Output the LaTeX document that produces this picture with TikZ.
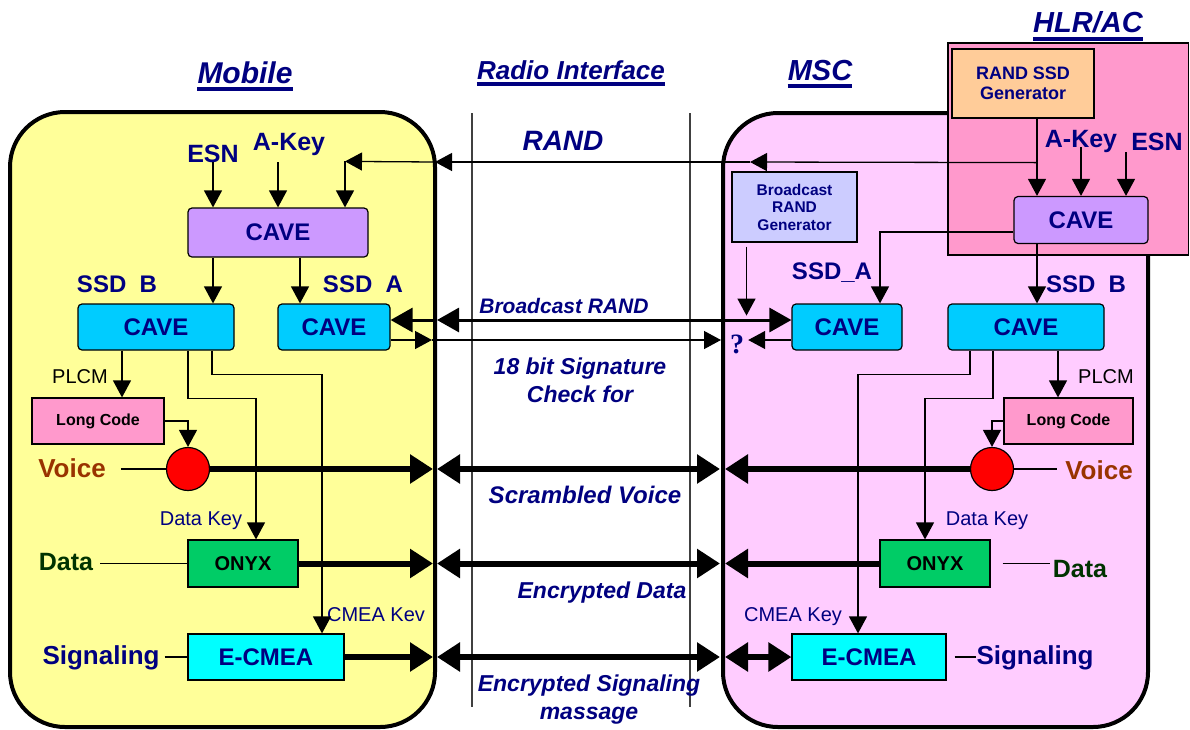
\documentclass[tikz,border=0pt]{standalone}
\usepackage{fontspec}
\setmainfont{Liberation Sans}
\newfontfamily\serifq{Liberation Serif}
\usetikzlibrary{arrows.meta,positioning,calc}
\definecolor{navyT}{HTML}{000080}
\definecolor{mobY}{HTML}{FFFF99}
\definecolor{mscP}{HTML}{FFCCFF}
\definecolor{hlrP}{HTML}{FF99CC}
\definecolor{genO}{HTML}{FFCC99}
\definecolor{caveV}{HTML}{CC99FF}
\definecolor{caveC}{HTML}{00CCFF}
\definecolor{bcastB}{HTML}{CCCCFF}
\definecolor{onyxG}{HTML}{00CC66}
\definecolor{ecmC}{HTML}{00FFFF}
\definecolor{voiceR}{HTML}{993300}
\definecolor{dataG}{HTML}{003300}
\newcommand\fsz[1]{\fontsize{#1}{#1}\selectfont}
\newcommand\fsl[2]{\fontsize{#1}{#2}\selectfont}
\tikzset{
  algo/.style={rectangle, rounded corners=4pt, draw=black, line width=1.2pt, fill=#1,
               inner sep=0pt, text=navyT, font=\fsz{24}\bfseries},
  blok/.style={rectangle, draw=black, line width=1.2pt, fill=#1, inner sep=0pt, align=center},
  lbl/.style={inner sep=0pt, anchor=base, text=navyT, font=\fsz{#1}\bfseries},
  keyl/.style={inner sep=0pt, anchor=base, text=navyT, font=\fsz{20}},
  ttl/.style={inner sep=0pt, anchor=base, text=navyT, font=\fsz{#1}\bfseries\itshape},
  uline/.style={line width=4pt, draw=navyT},
  ln/.style={line width=1.3pt},
  arr/.style={-{Triangle[length=17pt,width=18pt]}, line width=1.3pt},
  bc/.style={-{Triangle[length=22pt,width=24pt]}, line width=3pt},
  bcd/.style={{Triangle[length=22pt,width=24pt]}-{Triangle[length=22pt,width=24pt]}, line width=3pt},
  hv/.style={-{Triangle[length=23pt,width=28pt]}, line width=6pt},
  hvd/.style={{Triangle[length=23pt,width=28pt]}-{Triangle[length=23pt,width=28pt]}, line width=6pt},
}
\begin{document}
\begin{tikzpicture}[x=1pt, y=-1pt]
  \useasboundingbox (0,0) rectangle (1190,729);
  % entities
  \draw[line width=4pt, fill=mobY, rounded corners=55pt] (10,112) rectangle (435,727);
  \draw[line width=4pt, fill=mscP, rounded corners=55pt] (723,113) rectangle (1148,727);
  \draw[line width=1.2pt, fill=hlrP] (948,43) rectangle (1188.5,255);
  \draw[line width=1.3pt, black!75] (472,113) -- (472,707);
  \draw[line width=1.3pt, black!75] (690,113) -- (690,707);

  % titles
  \node[ttl=30] (tMob) at (245,83) {Mobile};
  \node[ttl=26] (tRadio) at (571,79) {Radio Interface};
  \node[ttl=29] (tMSC) at (820,80) {MSC};
  \node[ttl=29] (tHLR) at (1088,32) {HLR/AC};
  \draw[uline] ([yshift=-6pt]tMob.base west) -- ([yshift=-6pt]tMob.base east);
  \draw[uline] ([yshift=-5pt]tRadio.base west) -- ([yshift=-5pt]tRadio.base east);
  \draw[uline] ([yshift=-6pt]tMSC.base west) -- ([yshift=-6pt]tMSC.base east);
  \draw[uline] ([yshift=-7pt]tHLR.base west) -- ([yshift=-7pt]tHLR.base east);

  % mobile
  \node[algo=caveV, minimum width=180pt, minimum height=49pt] (caveM) at (278,232.5) {CAVE};
  \node[algo=caveC, minimum width=156pt, minimum height=46pt] (caveMB) at (156,327) {CAVE};
  \node[algo=caveC, minimum width=112pt, minimum height=46pt] (caveMA) at (334,327) {CAVE};
  \node[blok=hlrP, minimum width=132pt, minimum height=46pt, font=\fsz{16}\bfseries] (lcM) at (98,421) {Long Code};
  \node[circle, draw, fill=red, line width=1.2pt, minimum size=43pt, inner sep=0pt] (voM) at (188,469) {};
  \node[blok=onyxG, minimum width=110pt, minimum height=47pt, font=\fsz{20}\bfseries] (onyxM) at (243,563.5) {ONYX};
  \node[blok=ecmC, minimum width=156pt, minimum height=46pt, text=navyT, font=\fsz{24}\bfseries] (ecmM) at (266,657) {E-CMEA};
  \node[lbl=25] (esnM) at (213,162) {ESN};
  \node[lbl=25] (akM) at (289,150) {A-Key};
  \node[lbl=24] (ssdBM) at (117,292) {SSD~~B};
  \node[lbl=24] (ssdAM) at (363,292) {SSD~~A};
  \node[inner sep=0pt, anchor=base, font=\fsz{20}] (plcmM) at (80,383) {PLCM};
  \node[lbl=26, text=voiceR] (voiceM) at (72,477) {Voice};
  \node[lbl=25, text=dataG] (dataM) at (66,570) {Data};
  \node[lbl=26] (sigM) at (101,664) {Signaling};
  \node[keyl] (dkM) at (201,525) {Data Key};
  \node[keyl] (cmM) at (376,621) {CMEA Kev};

  % msc and hlr/ac
  \node[blok=genO, minimum width=142pt, minimum height=69pt, text=navyT, font=\fsl{18}{20}\bfseries] (genR) at (1023,83.5) {RAND SSD\\Generator};
  \node[blok=bcastB, minimum width=125pt, minimum height=70pt, text=navyT, font=\fsl{15.5}{17.5}\bfseries] (bgen) at (794.5,207) {Broadcast\\RAND\\Generator};
  \node[algo=caveV, minimum width=134pt, minimum height=47pt] (caveH) at (1081,220) {CAVE};
  \node[algo=caveC, minimum width=110pt, minimum height=46pt] (caveS) at (847,327) {CAVE};
  \node[algo=caveC, minimum width=156pt, minimum height=46pt] (caveHB) at (1026,327) {CAVE};
  \node[blok=hlrP, minimum width=129pt, minimum height=46pt, font=\fsz{16}\bfseries] (lcR) at (1068.5,421) {Long Code};
  \node[circle, draw, fill=red, line width=1.2pt, minimum size=43pt, inner sep=0pt] (voR) at (992,469) {};
  \node[blok=onyxG, minimum width=110pt, minimum height=47pt, font=\fsz{20}\bfseries] (onyxR) at (935,563.5) {ONYX};
  \node[blok=ecmC, minimum width=154pt, minimum height=46pt, text=navyT, font=\fsz{24}\bfseries] (ecmR) at (869,657) {E-CMEA};
  \node[lbl=25] (akH) at (1081,147) {A-Key};
  \node[lbl=25] (esnH) at (1157,150) {ESN};
  \node[lbl=24] (ssdAS) at (832,279) {SSD\_A};
  \node[lbl=24] (ssdBH) at (1086,292) {SSD~~B};
  \node[inner sep=0pt, anchor=base, font=\fsz{20}] (plcmR) at (1106,383) {PLCM};
  \node[lbl=26, text=voiceR] (voiceR) at (1099,479) {Voice};
  \node[lbl=25, text=dataG] (dataR) at (1080,577) {Data};
  \node[lbl=26] (sigR) at (1035,664) {Signaling};
  \node[keyl] (dkR) at (987,525) {Data Key};
  \node[keyl] (cmR) at (793,621) {CMEA Key};
  \node[inner sep=0pt, text=navyT, font=\serifq\fsz{28}\bfseries] (qm) at (737,344) {?};

  % radio interface labels
  \node[ttl=28] (lRand) at (563,150) {RAND};
  \node[ttl=21] (lBc) at (564,313) {Broadcast RAND};
  \node[ttl=23, anchor=center, align=center, font=\fsl{23}{28}\bfseries\itshape] (lSig) at (580,380.5) {18 bit Signature\\Check for};
  \node[ttl=24] (lScr) at (585,503) {Scrambled Voice};
  \node[ttl=23] (lEnc) at (602,598) {Encrypted Data};
  \node[ttl=23, anchor=center, align=center, font=\fsl{23}{28}\bfseries\itshape] (lEsg) at (589,700) {Encrypted Signaling\\massage};

  % keys and RAND
  \coordinate (randJ) at ($(genR.south)+(14,44)$);
  \coordinate (randM) at (750,162);
  \coordinate (randL) at (435,162);
  \coordinate (randK) at ($(caveM.north)+(67,-46)$);
  \draw[arr] ($(genR.south)+(14,0)$) -- ($(caveH.north)+(-44,0)$);
  \draw[arr] (randJ) -- (randM);
  \draw[arr] (randM) -- (randL);
  \draw[arr] (randL) -- (randK);
  \draw[arr] (randK) -- (randK |- caveM.north);
  \draw[arr] (esnM.base) -- (esnM.base |- caveM.north);
  \draw[arr] ($(akM.base)+(-11,12)$) -- ($(akM.base |- caveM.north)+(-11,0)$);
  \draw[arr] (akH.base) -- (akH.base |- caveH.north);
  \draw[arr] ($(esnH.base)+(-31,2)$) -- ($(esnH.base |- caveH.north)+(-31,0)$);
  \draw[arr] (caveM.south -| esnM.base) -- (caveMB.north -| esnM.base);
  \draw[arr] ($(caveM.south)+(22,0)$) -- ($(caveMA.north)+(-34,0)$);
  \draw[arr] ([yshift=-12pt]caveH.west) -| ($(caveS.north)+(33,0)$);
  \draw[arr] ($(caveH.south)+(-44,0)$) -- ($(caveHB.north)+(11,0)$);

  % broadcast and signature
  \coordinate (bL) at (437,320);
  \coordinate (sgL) at (432,340);
  \coordinate (sgR) at (721,340);
  \draw[bcd] (bL) -- (caveS.west |- bL);
  \draw[bc] (bL) -- (caveMA.east |- bL);
  \draw[arr] ($(bgen.south)+(-48,4)$) -- ($(bgen.south)+(-48,73)$);
  \draw[arr] (caveMA.east |- sgL) -- (sgL);
  \draw[arr] (sgL) -- (sgR);
  \draw[arr] (caveS.west |- sgL) -- ($(qm.east |- sgL)+(4,0)$);

  % mobile key lines
  \draw[arr] ($(caveMB.south)+(-34,0)$) -- ($(lcM.north)+(24,0)$);
  \draw[arr] ($(caveMB.south)+(32,0)$) -- ($(caveMB.south)+(32,48)$) -| ($(onyxM.north)+(13,0)$);
  \draw[arr] ($(caveMB.south)+(56,0)$) -- ($(caveMB.south)+(56,24)$) -| ($(ecmM.north)+(56,0)$);
  \draw[arr] (lcM.east) -| (voM.north);
  \draw[ln] ($(voiceM.east |- voM.west)+(15,0)$) -- (voM.west);
  \draw[ln] ($(dataM.east |- onyxM.west)+(7,0)$) -- (onyxM.west);
  \draw[ln] ($(sigM.east |- ecmM.west)+(5,0)$) -- (ecmM.west);

  % msc key lines
  \draw[arr] ($(caveHB.south)+(32,0)$) -- ($(lcR.north)+(-10.5,0)$);
  \draw[arr] ($(caveHB.south)+(-33,0)$) -- ($(caveHB.south)+(-33,48)$) -| ($(onyxR.north)+(-10,0)$);
  \draw[arr] ($(caveHB.south)+(-56,0)$) -- ($(caveHB.south)+(-56,24)$) -| ($(ecmR.north)+(-11,0)$);
  \draw[arr] (lcR.west) -| (voR.north);
  \draw[ln] (voR.east) -- ($(voiceR.west |- voR.east)+(-8,0)$);
  \draw[ln] ($(onyxR.east)+(12,0)$) -- ($(dataR.west |- onyxR.east)+(-3,0)$);
  \draw[ln] ($(ecmR.east)+(8,0)$) -- (sigR.west |- ecmR.east);

  % traffic
  \coordinate (eL) at (433,0);
  \coordinate (rA) at (437,0);
  \coordinate (rB) at (720,0);
  \coordinate (eR) at (725,0);
  \draw[hv] (voM.east) -- (voM.east -| eL);
  \draw[hvd] (voM.east -| rA) -- (voM.east -| rB);
  \draw[hv] (voR.west) -- (voR.west -| eR);
  \draw[hv] (onyxM.east) -- (onyxM.east -| eL);
  \draw[hvd] (onyxM.east -| rA) -- (onyxM.east -| rB);
  \draw[hv] (onyxR.west) -- (onyxR.west -| eR);
  \draw[hv] (ecmM.east) -- (ecmM.east -| eL);
  \draw[hvd] (ecmM.east -| rA) -- (ecmM.east -| rB);
  \draw[hvd] (ecmR.west -| eR) -- (ecmR.west);
\end{tikzpicture}
\end{document}
